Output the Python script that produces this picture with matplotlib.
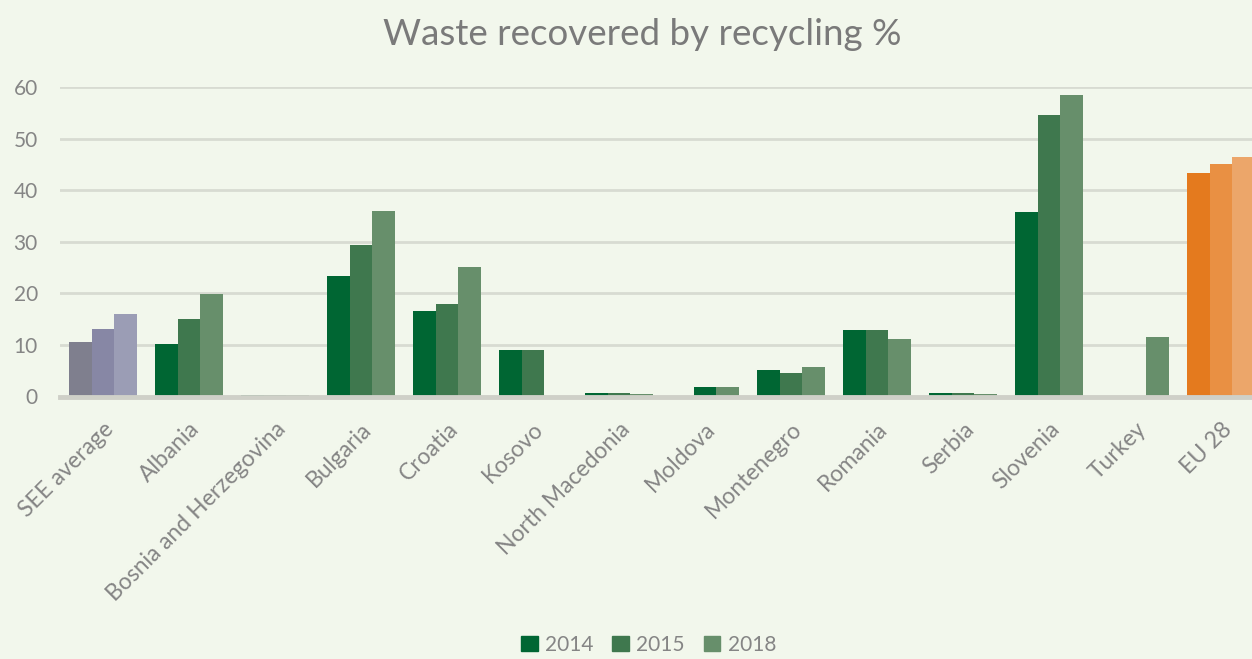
import matplotlib.pyplot as plt
import numpy as np

countries = ["SEE average", "Albania", "Bosnia and Herzegovina", "Bulgaria", "Croatia",
             "Kosovo", "North Macedonia", "Moldova", "Montenegro", "Romania",
             "Serbia", "Slovenia", "Turkey", "EU 28"]
years = ["2014", "2015", "2018"]
vals_2014 = [10.6, 10.1, 0.3, 23.4, 16.6, 9.0, 0.6, 0.0, 5.1, 12.9, 0.6, 35.8, 0.0, 43.3]
vals_2015 = [13.1, 15.1, 0.3, 29.4, 17.9, 9.0, 0.6, 1.9, 4.5, 12.9, 0.6, 54.7, 0.0, 45.1]
vals_2018 = [16.0, 19.9, 0.3, 35.9, 25.1, 0.0, 0.5, 1.9, 5.7, 11.1, 0.5, 58.6, 11.5, 46.4]

BG = "#f2f7ec"
TXT = "#858585"
greens = ["#006633", "#3f784e", "#678f6b"]
see_cols = ["#7f7f8e", "#8787a5", "#9b9db5"]
eu_cols = ["#e47a1e", "#e99043", "#eca66a"]

plt.rcParams["font.family"] = ["Lato", "DejaVu Sans"]

fig = plt.figure(figsize=(12.52, 6.59), dpi=100, facecolor=BG)
W, H = 1252, 659
x0, y0 = 60, 396.5
ax = fig.add_axes([x0 / W, (H - y0) / H, 14 * 86 / W, (y0 - 87.3) / H])
ax.set_facecolor(BG)

x = np.arange(len(countries))
bw = 0.267
series = [vals_2014, vals_2015, vals_2018]
for k, (vals, yr) in enumerate(zip(series, years)):
    cols = [greens[k]] * len(countries)
    cols[0] = see_cols[k]
    cols[-1] = eu_cols[k]
    if k == 1:
        # Moldova's 2015 bar is shaded like the 2014 series
        cols[countries.index("Moldova")] = greens[0]
    ax.bar(x + (k - 1) * bw, vals, bw, color=cols, zorder=3, label=yr)

ax.set_xlim(-0.5, len(countries) - 0.5)
ax.set_ylim(0, 60)
ax.set_yticks(range(0, 61, 10))
ax.yaxis.grid(True, color="#d8dbd2", linewidth=2, zorder=0)
ax.tick_params(axis="y", length=0, labelsize=15, labelcolor=TXT, pad=16)
ax.tick_params(axis="x", length=0)
for s in ["top", "right", "left"]:
    ax.spines[s].set_visible(False)
ax.spines["bottom"].set_color("#cfd0c8")
ax.spines["bottom"].set_linewidth(3.5)
ax.spines["bottom"].set_zorder(4)

ax.set_xticks(x)
ax.set_xticklabels(countries, rotation=45, ha="right", rotation_mode="anchor",
                   fontsize=16.5, color=TXT)
for lbl in ax.get_xticklabels():
    lbl.set_y(-0.055)

fig.text(0.513, 0.948, "Waste recovered by recycling %", ha="center", va="center",
         fontsize=26.5, color="#7a7a7a")

handles = [plt.Rectangle((0, 0), 1, 1, color=c) for c in greens]
fig.legend(handles, years, loc="lower center", bbox_to_anchor=(0.518, -0.022), ncol=3,
           frameon=False, fontsize=15, labelcolor=TXT, handlelength=0.8,
           handleheight=0.8, handletextpad=0.35, columnspacing=0.9)

fig.savefig("out.png", dpi=100, facecolor=BG)
